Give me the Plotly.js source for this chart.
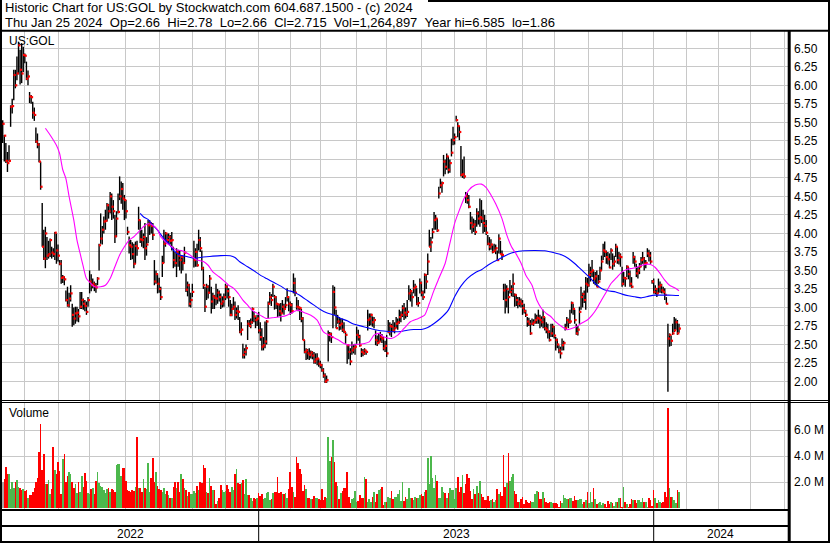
<!DOCTYPE html>
<html><head><meta charset="utf-8">
<script src="https://cdn.plot.ly/plotly-3.0.1.min.js"></script>
<style>html,body{margin:0;padding:0;background:#fff;overflow:hidden}#chart{width:830px;height:543px}</style>
</head><body><div id="chart"></div>
<script>
// ---------------- DATA ----------------
const symbol = "US:GOL";
const headerLine1 = "Historic Chart for US:GOL by Stockwatch.com 604.687.1500 - (c) 2024";
const headerLine2 = "Thu Jan 25 2024  Op=2.66  Hi=2.78  Lo=2.66  Cl=2.715  Vol=1,264,897  Year hi=6.585  lo=1.86";
const volumeLabel = "Volume";
const firstDay = "2022-05-11";
const axisEndDay = "2024-05-31";
const holidays = ["2022-05-30","2022-06-20","2022-07-04","2022-09-05","2022-11-24","2022-12-26",
  "2023-01-02","2023-01-16","2023-02-20","2023-04-07","2023-05-29","2023-06-19","2023-07-04","2023-09-04","2023-11-23","2023-12-25",
  "2024-01-01","2024-01-15","2024-02-19","2024-03-29","2024-05-27"];

const high = [
5.53,5.33,5.22,5.10,5.19,5.73,5.82,6.21,6.21,6.39,
6.59,6.48,6.57,6.52,6.43,6.32,6.20,5.91,5.87,5.78,
5.70,5.43,5.35,5.22,4.97,4.41,4.05,4.09,3.95,3.90,
3.93,3.82,3.80,4.02,4.00,3.85,3.64,3.64,3.44,3.42,
3.23,3.28,3.20,3.30,3.05,3.00,3.01,3.01,2.98,3.21,
3.21,3.12,3.10,3.08,3.14,3.50,3.45,3.39,3.35,3.33,
3.41,3.86,4.27,4.10,4.23,4.32,4.41,4.40,4.56,4.54,
4.45,4.25,4.30,4.54,4.77,4.70,4.68,4.52,4.45,4.09,
3.96,3.91,3.88,3.86,3.89,3.90,4.36,4.18,4.05,4.00,
4.14,3.95,4.18,4.18,4.15,4.14,3.64,3.50,3.46,3.40,
3.28,3.70,4.05,4.02,4.00,4.00,3.98,4.02,3.82,3.75,
3.80,3.78,3.77,3.71,3.70,3.82,3.46,3.35,3.32,3.20,
3.32,3.90,3.80,3.86,4.05,3.95,3.77,3.55,3.28,3.32,
3.30,3.44,3.28,3.20,3.17,3.32,3.25,3.23,3.19,3.15,
3.19,3.32,3.30,3.26,3.10,3.05,3.14,3.08,3.00,3.03,
2.87,2.80,2.51,2.45,2.50,2.83,2.83,2.85,3.00,2.95,
2.87,2.90,2.94,2.80,2.72,2.60,2.81,2.83,3.08,3.21,
3.18,3.32,3.17,3.15,3.06,3.05,3.06,3.10,3.05,3.14,
3.26,3.15,3.08,3.06,3.46,3.40,3.14,3.10,3.01,2.98,
2.87,2.56,2.45,2.44,2.45,2.42,2.41,2.40,2.38,2.38,
2.31,2.28,2.24,2.18,2.11,2.08,2.69,2.67,2.66,3.30,
3.28,2.97,2.90,2.87,2.85,2.85,2.80,2.67,2.49,2.50,
2.45,2.54,2.50,2.51,2.74,2.70,2.63,2.45,2.44,2.45,
2.42,2.97,2.92,2.92,2.88,2.87,2.69,2.62,2.65,2.67,
2.64,2.60,2.55,2.63,2.83,2.80,2.78,2.83,2.80,2.87,
2.85,2.97,2.95,3.03,3.06,3.00,3.10,3.30,3.25,3.21,
3.37,3.32,3.26,3.14,3.39,3.35,3.23,3.46,3.45,3.73,
4.05,3.95,4.07,4.29,4.25,4.20,4.63,4.74,4.70,5.06,
5.00,5.08,5.04,5.00,5.28,5.44,5.35,5.59,5.50,5.45,
5.18,5.00,5.04,4.56,4.55,4.52,4.29,4.23,4.20,4.18,
4.34,4.30,4.47,4.45,4.32,4.25,4.18,3.98,3.95,3.92,
3.84,3.86,3.85,3.77,3.99,3.90,3.77,3.32,3.32,3.30,
3.23,3.37,3.30,3.46,3.19,3.18,3.14,3.14,3.12,3.10,
3.05,2.97,2.87,2.86,2.83,2.85,2.84,2.92,2.90,2.97,
2.90,2.88,2.97,2.87,2.80,2.78,2.69,2.78,2.78,2.75,
2.60,2.58,2.49,2.47,2.58,2.55,2.78,2.87,2.85,2.97,
3.08,3.05,2.97,2.78,2.75,3.01,3.28,3.20,3.23,3.41,
3.40,3.59,3.55,3.64,3.50,3.48,3.50,3.44,3.55,3.70,
3.86,3.89,3.77,3.75,3.73,3.80,3.73,3.70,3.86,3.82,
3.75,3.73,3.55,3.48,3.41,3.57,3.55,3.50,3.41,3.75,
3.70,3.59,3.55,3.60,3.68,3.75,3.68,3.64,3.80,3.78,
3.75,3.37,3.39,3.30,3.26,3.39,3.35,3.32,3.28,3.26,
3.14,2.78,2.65,2.62,2.78,2.87,2.85,2.83,2.78];

const low = [
5.22,4.97,4.95,4.83,4.97,5.44,5.62,5.80,5.96,6.07,
6.15,6.01,6.03,6.18,6.30,6.07,6.00,5.76,5.75,5.55,
5.52,5.22,5.15,4.96,4.59,3.82,3.64,3.53,3.64,3.66,
3.68,3.66,3.68,3.64,3.59,3.62,3.57,3.32,3.33,3.30,
3.08,3.01,3.00,3.08,2.74,2.76,2.78,2.81,2.80,2.98,
2.98,2.97,2.95,2.90,3.01,3.19,3.22,3.26,3.22,3.20,
3.30,3.50,3.86,3.85,4.00,4.05,4.16,4.20,4.27,4.18,
4.20,3.87,3.95,4.27,4.45,4.40,4.32,4.18,4.20,3.98,
3.73,3.64,3.65,3.53,3.59,3.70,4.05,3.87,3.82,3.80,
3.64,3.70,3.87,3.98,4.00,3.91,3.30,3.32,3.19,3.20,
3.10,3.41,3.60,3.82,3.86,3.85,3.85,3.77,3.53,3.55,
3.41,3.55,3.50,3.46,3.50,3.59,3.21,3.15,3.01,3.00,
3.14,3.54,3.55,3.55,3.77,3.75,3.50,3.25,2.94,3.10,
3.12,3.19,2.92,2.98,2.98,3.03,3.05,3.08,2.98,3.00,
3.01,3.10,3.12,3.01,2.88,2.88,2.97,2.83,2.85,2.83,
2.65,2.62,2.31,2.31,2.35,2.56,2.74,2.72,2.78,2.80,
2.72,2.75,2.65,2.55,2.42,2.42,2.45,2.50,2.85,3.05,
3.02,3.14,2.97,2.98,2.87,2.88,2.81,2.92,2.90,2.99,
3.08,2.95,2.90,2.92,3.19,3.15,2.97,2.95,2.83,2.80,
2.56,2.38,2.29,2.30,2.29,2.31,2.30,2.24,2.24,2.22,
2.20,2.18,2.13,2.05,1.98,1.98,2.27,2.54,2.52,2.72,
2.90,2.72,2.78,2.69,2.70,2.67,2.65,2.51,2.24,2.30,
2.22,2.36,2.38,2.36,2.51,2.55,2.47,2.33,2.34,2.36,
2.36,2.69,2.75,2.76,2.74,2.72,2.49,2.48,2.51,2.54,
2.52,2.42,2.40,2.33,2.65,2.62,2.60,2.67,2.65,2.72,
2.70,2.78,2.80,2.87,2.83,2.85,2.87,3.10,3.08,3.01,
3.19,3.15,3.03,3.01,3.19,3.15,3.10,3.19,3.25,3.44,
3.82,3.75,3.93,4.05,4.05,4.02,4.47,4.61,4.55,4.77,
4.80,4.86,4.81,4.82,5.04,5.19,5.20,5.51,5.30,5.26,
4.77,4.75,4.74,4.41,4.40,4.34,4.05,4.00,4.02,3.98,
4.09,4.12,4.09,4.14,4.00,4.02,3.98,3.84,3.77,3.78,
3.73,3.75,3.72,3.64,3.73,3.72,3.64,3.10,2.92,3.00,
2.92,3.19,3.15,3.14,3.01,3.02,2.99,3.01,3.00,2.90,
2.92,2.87,2.74,2.75,2.63,2.76,2.75,2.78,2.78,2.78,
2.72,2.74,2.72,2.69,2.65,2.58,2.54,2.60,2.60,2.58,
2.42,2.45,2.38,2.31,2.42,2.42,2.69,2.74,2.72,2.78,
2.92,2.90,2.78,2.63,2.62,2.78,2.97,3.00,3.06,2.97,
3.20,3.28,3.35,3.41,3.32,3.30,3.28,3.32,3.37,3.50,
3.64,3.68,3.59,3.58,3.53,3.64,3.51,3.55,3.68,3.59,
3.58,3.55,3.28,3.30,3.28,3.41,3.38,3.28,3.26,3.59,
3.55,3.41,3.39,3.45,3.55,3.59,3.50,3.53,3.68,3.62,
3.59,3.32,3.19,3.18,3.14,3.19,3.20,3.19,3.19,3.10,
3.05,1.86,2.47,2.48,2.63,2.67,2.70,2.63,2.66];

const close = [
5.48,5.32,4.98,4.95,4.98,5.71,5.72,6.14,6.00,6.16,
6.54,6.21,6.16,6.41,6.40,6.09,6.12,5.85,5.84,5.63,
5.60,5.24,5.20,4.97,4.63,3.82,3.66,4.00,3.70,3.72,
3.91,3.74,3.72,4.01,3.77,3.70,3.59,3.40,3.41,3.38,
3.10,3.03,3.12,3.19,2.90,2.85,2.92,2.93,2.88,3.01,
3.10,3.05,3.02,2.94,3.10,3.35,3.30,3.32,3.29,3.27,
3.39,3.84,3.93,4.05,4.16,4.17,4.38,4.30,4.50,4.36,
4.30,3.96,4.20,4.29,4.50,4.60,4.47,4.45,4.30,4.02,
3.84,3.82,3.72,3.59,3.83,3.80,4.18,3.92,3.91,3.95,
3.80,3.85,4.11,4.14,4.10,3.98,3.35,3.45,3.32,3.25,
3.14,3.60,3.86,4.00,3.91,3.95,3.90,3.91,3.64,3.60,
3.75,3.70,3.64,3.68,3.60,3.74,3.24,3.30,3.05,3.10,
3.21,3.64,3.75,3.57,3.91,3.80,3.53,3.30,3.01,3.28,
3.20,3.39,3.08,3.15,3.13,3.12,3.20,3.14,3.05,3.08,
3.14,3.28,3.22,3.14,2.90,2.98,3.01,2.90,2.95,2.94,
2.67,2.70,2.36,2.40,2.45,2.78,2.75,2.80,2.98,2.88,
2.83,2.85,2.69,2.60,2.47,2.49,2.54,2.81,3.05,3.14,
3.10,3.28,3.14,3.05,3.04,2.95,2.92,3.01,2.98,3.03,
3.14,3.05,3.03,2.95,3.33,3.20,3.01,3.00,2.99,2.85,
2.56,2.40,2.42,2.38,2.36,2.39,2.35,2.27,2.30,2.31,
2.24,2.22,2.15,2.08,2.00,2.02,2.63,2.64,2.60,3.21,
3.00,2.72,2.81,2.76,2.78,2.70,2.67,2.63,2.49,2.40,
2.27,2.42,2.45,2.47,2.63,2.60,2.49,2.40,2.38,2.42,
2.40,2.83,2.85,2.90,2.80,2.83,2.56,2.52,2.54,2.60,
2.58,2.45,2.48,2.38,2.67,2.75,2.74,2.69,2.72,2.78,
2.80,2.87,2.90,2.99,2.93,2.90,2.94,3.19,3.22,3.14,
3.26,3.28,3.05,3.06,3.33,3.20,3.14,3.44,3.35,3.62,
3.82,3.88,4.02,4.18,4.20,4.04,4.54,4.65,4.68,4.97,
4.90,5.04,4.86,4.95,5.09,5.26,5.30,5.53,5.45,5.37,
4.79,4.80,4.77,4.50,4.45,4.36,4.14,4.09,4.12,4.02,
4.27,4.20,4.22,4.20,4.14,4.10,4.01,3.86,3.82,3.85,
3.75,3.77,3.80,3.64,3.93,3.72,3.71,3.23,3.10,3.25,
3.14,3.21,3.25,3.32,3.17,3.10,3.05,3.08,3.05,2.99,
2.95,2.90,2.81,2.78,2.65,2.78,2.80,2.83,2.86,2.85,
2.83,2.80,2.87,2.72,2.70,2.67,2.56,2.65,2.74,2.62,
2.56,2.50,2.42,2.38,2.49,2.52,2.72,2.83,2.80,2.81,
3.06,2.98,2.83,2.65,2.70,2.94,3.14,3.18,3.10,3.32,
3.30,3.44,3.48,3.50,3.39,3.42,3.28,3.35,3.50,3.62,
3.77,3.75,3.68,3.65,3.54,3.77,3.59,3.62,3.82,3.64,
3.70,3.68,3.32,3.40,3.39,3.55,3.45,3.32,3.28,3.68,
3.62,3.46,3.50,3.55,3.64,3.66,3.59,3.60,3.73,3.70,
3.62,3.35,3.21,3.25,3.19,3.28,3.30,3.23,3.21,3.17,
3.05,2.58,2.63,2.55,2.65,2.69,2.80,2.65,2.715];

// daily volume, millions of shares
const volume = [
2.03,2.23,3.18,2.6,2.59,1.44,1.97,1.57,2.03,2.15,
1.64,1.51,1.39,1.45,1.33,1.39,0.8,1.0,1.0,1.2,
1.51,2.0,2.33,4.33,6.44,2.92,4.13,1.87,1.82,2.13,
1.05,1.5,4.72,2.9,2.59,3.51,2.85,1.05,3.74,4.18,
2.03,2.49,2.74,2.6,2.03,1.51,1.82,1.13,2.03,1.21,
2.49,1.64,2.67,2.08,1.13,1.05,1.46,1.51,1.05,2.08,
2.8,1.9,1.72,1.64,1.4,1.13,1.46,1.51,1.26,1.5,
1.36,1.2,3.31,3.41,3.36,2.5,3.05,3.05,2.08,1.36,
1.31,1.26,1.39,1.33,1.6,5.49,1.51,1.51,1.26,2.23,
1.57,1.5,3.44,1.26,2.28,3.82,2.0,2.8,1.72,1.46,
1.39,1.21,1.51,1.05,1.3,1.0,0.74,0.8,1.64,1.97,
1.51,2.03,1.26,2.59,2.23,1.57,1.39,0.95,1.26,1.1,
1.1,1.3,1.18,1.7,1.4,2.0,1.9,3.31,3.05,1.26,
1.18,2.33,1.72,1.39,1.39,0.28,0.54,0.8,1.77,1.39,
1.26,1.31,1.77,1.5,1.2,1.6,1.4,2.59,3.0,1.9,
1.82,1.9,2.15,1.05,2.2,1.0,1.0,0.8,0.54,0.74,
0.69,0.8,1.13,0.95,1.05,0.69,0.74,1.13,1.2,0.62,
0.67,1.13,1.2,1.2,2.41,1.13,1.26,1.05,1.05,1.13,
0.74,1.44,2.8,1.64,1.2,0.87,3.95,3.44,2.97,2.59,
1.31,1.77,1.46,0.8,0.8,0.67,0.69,0.92,0.8,0.8,
0.7,0.62,1.44,0.62,0.87,0.75,5.49,3.62,3.95,5.23,
3.56,2.03,1.72,0.67,1.13,1.31,1.56,1.51,2.8,0.87,
0.41,0.69,0.8,1.31,0.49,0.56,1.0,0.74,0.8,2.41,
2.23,0.49,0.69,0.49,0.82,1.2,0.44,1.05,1.41,1.46,
1.64,0.23,0.5,0.49,0.87,0.74,1.31,0.69,0.87,0.87,
1.05,1.39,0.54,2.03,0.54,0.82,0.7,1.56,0.8,0.8,
0.59,0.87,0.74,0.8,1.0,1.05,0.95,1.2,1.4,3.87,
1.82,4.03,2.33,1.56,2.54,2.08,0.8,0.74,1.64,1.26,
1.13,0.8,1.18,1.56,1.39,1.39,0.69,1.56,2.41,1.26,
1.64,2.54,1.13,1.87,2.64,2.33,1.31,0.67,1.46,1.05,
1.72,1.13,2.1,1.1,0.87,0.62,0.62,0.95,0.54,0.62,
0.7,0.49,0.62,1.46,1.05,1.2,0.9,4.08,1.64,1.95,
4.26,2.1,2.41,2.59,1.31,1.1,0.49,0.49,0.67,0.87,
0.33,0.64,0.5,0.36,0.56,0.44,0.49,1.1,1.31,1.26,
0.67,0.69,1.26,0.8,0.44,0.38,0.49,0.44,0.36,0.41,
0.41,0.3,0.1,0.56,0.36,1.0,0.74,0.69,0.69,0.74,
0.8,0.54,0.95,0.59,0.59,0.72,0.72,0.28,0.49,0.6,
1.26,0.36,1.26,0.49,1.56,0.67,0.31,0.36,0.49,0.23,
0.38,0.28,0.1,0.56,0.33,0.49,0.4,0.15,0.49,0.49,
0.8,0.74,0.1,1.64,0.49,0.31,0.1,0.28,0.72,0.64,
0.64,0.41,0.64,0.59,0.5,0.8,0.49,0.44,0.1,0.74,
0.59,0.18,1.41,0.74,0.36,0.62,0.49,0.41,0.44,1.2,
0.85,7.67,1.56,0.87,0.87,0.64,0.36,1.41,1.26];

// moving averages (trading-day number, price)
const maFastDay = [27,30,34,36,38,40,42,45,47,49,51,53,56,58,62,65,68,71,74,77,80,83,86,89,92,95,98,100,102,104,107,110,113,117,120,123,127,130,133,137,140,143,146,149,152,155,158,161,165,167,172,176,180,184,187,191,195,199,203,208,212,216,220,225,229,232,235,238,241,246,250,254,258,263,267,270,273,276,280,283,286,289,292,295,299,303,306,309,312,316,319,322,325,328,331,335,338,341,344,347,350,354,357,360,363,366,370,373,376,379,382,385,389,392,395,398,401,404,408,410,413,416,419,422,426,428];
const maFastVal = [5.42,5.33,5.19,5.08,4.86,4.74,4.50,4.18,3.91,3.73,3.55,3.39,3.32,3.28,3.28,3.30,3.39,3.55,3.71,3.82,3.91,3.955,4.02,4.09,4.13,4.11,4.05,3.955,3.91,3.865,3.82,3.775,3.77,3.73,3.685,3.64,3.62,3.57,3.48,3.414,3.36,3.30,3.26,3.19,3.10,3.03,2.96,2.92,2.87,2.85,2.865,2.874,2.896,2.94,2.964,2.93,2.896,2.83,2.67,2.61,2.567,2.513,2.49,2.504,2.513,2.535,2.626,2.65,2.603,2.58,2.626,2.716,2.806,2.851,2.896,3.054,3.234,3.39,3.594,3.865,4.135,4.315,4.473,4.585,4.653,4.666,4.62,4.52,4.40,4.20,3.98,3.82,3.72,3.60,3.44,3.30,3.10,2.986,2.92,2.874,2.806,2.74,2.70,2.716,2.74,2.784,2.83,2.896,2.986,3.10,3.21,3.324,3.414,3.48,3.513,3.527,3.54,3.567,3.585,3.58,3.54,3.46,3.369,3.30,3.256,3.225];
const maSlowDay = [87,89,92,95,98,102,105,108,112,117,121,125,129,133,138,144,147,150,155,159,163,167,172,176,180,184,188,193,197,201,205,210,214,218,222,227,231,235,239,244,248,252,256,260,265,269,273,277,282,286,290,294,299,303,307,311,316,320,324,330,337,343,349,354,358,362,366,371,375,379,383,388,392,396,400,404,409,413,417,421,426,428];
const maSlowVal = [4.27,4.225,4.19,4.11,4.045,3.93,3.865,3.775,3.707,3.685,3.662,3.675,3.685,3.693,3.70,3.698,3.675,3.617,3.55,3.495,3.437,3.39,3.333,3.288,3.234,3.21,3.166,3.09,3.031,2.973,2.928,2.896,2.851,2.82,2.775,2.748,2.725,2.703,2.685,2.675,2.671,2.675,2.693,2.703,2.703,2.73,2.784,2.851,2.964,3.144,3.288,3.39,3.47,3.51,3.57,3.62,3.675,3.72,3.747,3.765,3.77,3.765,3.738,3.707,3.662,3.594,3.513,3.414,3.324,3.256,3.225,3.21,3.18,3.157,3.144,3.13,3.153,3.166,3.166,3.166,3.162,3.162];

const priceTicks = [2.00,2.25,2.50,2.75,3.00,3.25,3.50,3.75,4.00,4.25,4.50,4.75,5.00,5.25,5.50,5.75,6.00,6.25,6.50];
const volumeTicks = [2, 4, 6];
const volumeTickText = ["2.0 M", "4.0 M", "6.0 M"];
const yearLabels = ["2022", "2023", "2024"];

// ---------------- BUILD ----------------
function tradingDays(start, end, hol) {
  const set = new Set(hol), out = [];
  let d = new Date(start + "T00:00:00Z");
  const e = new Date(end + "T00:00:00Z");
  while (d <= e) {
    const wd = d.getUTCDay(), s = d.toISOString().slice(0, 10);
    if (wd !== 0 && wd !== 6 && !set.has(s)) out.push(s);
    d = new Date(d.getTime() + 86400000);
  }
  return out;
}
const days = tradingDays(firstDay, axisEndDay, holidays);
const monthTicks = [], yearStarts = [];
for (let k = 1; k < days.length; k++) {
  if (days[k].slice(0, 7) !== days[k - 1].slice(0, 7)) monthTicks.push(k);
  if (days[k].slice(0, 4) !== days[k - 1].slice(0, 4)) yearStarts.push(k);
}
const xRange = [-0.45, 497];

const n = close.length;
const idx = close.map((_, i) => i);
const hlX = [], hlY = [];
for (let i = 0; i < n; i++) { hlX.push(i, i, null); hlY.push(low[i], high[i], null); }
const volColor = volume.map((_, i) => {
  if (i === 0 || i >= n) return '#a6a6a6';
  return close[i] > close[i - 1] ? '#4cb84c' : (close[i] < close[i - 1] ? '#ff0000' : '#a6a6a6');
});

const W = 830, H = 543;
const px = v => v / W, py = v => 1 - v / H;
const GRID = '#c8c8c8';
const FONT = '"Liberation Sans", Arial, Helvetica, sans-serif';

const traces = [
  { type: 'scatter', mode: 'lines', x: hlX, y: hlY, line: { color: '#000', width: 1.4 }, hoverinfo: 'skip', xaxis: 'x', yaxis: 'y' },
  { type: 'scatter', mode: 'markers', x: idx.map(i => i + 0.55), y: close, marker: { color: '#ff0000', size: 2.2, symbol: 'square', line: { width: 0 } }, hoverinfo: 'skip', xaxis: 'x', yaxis: 'y' },
  { type: 'scatter', mode: 'lines', x: maSlowDay, y: maSlowVal, line: { color: '#0000ff', width: 1.1, shape: 'spline', smoothing: 0.6 }, xaxis: 'x', yaxis: 'y' },
  { type: 'scatter', mode: 'lines', x: maFastDay, y: maFastVal, line: { color: '#ff00ff', width: 1.1, shape: 'spline', smoothing: 0.6 }, xaxis: 'x', yaxis: 'y' },
  { type: 'bar', x: volume.map((_, i) => i), y: volume, width: 1, marker: { color: volColor, line: { width: 0 } }, xaxis: 'x', yaxis: 'y2' }
];

const blk = { color: '#000' };
const shapes = [
  { type: 'line', xref: 'paper', yref: 'paper', x0: px(428), x1: 1, y0: py(1), y1: py(1), line: { ...blk, width: 2 } },
  { type: 'line', xref: 'paper', yref: 'paper', x0: 0, x1: 1, y0: py(30.8), y1: py(30.8), line: { ...blk, width: 2 } },
  { type: 'line', xref: 'paper', yref: 'paper', x0: px(1), x1: px(1), y0: py(0), y1: py(543), line: { ...blk, width: 2 } },
  { type: 'line', xref: 'paper', yref: 'paper', x0: px(829), x1: px(829), y0: py(0), y1: py(543), line: { ...blk, width: 2 } },
  { type: 'line', xref: 'paper', yref: 'paper', x0: px(789.2), x1: px(789.2), y0: py(30), y1: py(543), line: { ...blk, width: 3 } },
  { type: 'line', xref: 'paper', yref: 'paper', x0: 0, x1: 1, y0: py(400.5), y1: py(400.5), line: { ...blk, width: 1 } },
  { type: 'line', xref: 'paper', yref: 'paper', x0: 0, x1: 1, y0: py(402.5), y1: py(402.5), line: { ...blk, width: 1 } },
  { type: 'line', xref: 'paper', yref: 'paper', x0: 0, x1: px(789), y0: py(510), y1: py(510), line: { ...blk, width: 2 } },
  { type: 'line', xref: 'paper', yref: 'paper', x0: 0, x1: px(789), y0: py(526), y1: py(526), line: { ...blk, width: 2 } },
  { type: 'line', xref: 'paper', yref: 'paper', x0: 0, x1: 1, y0: py(542), y1: py(542), line: { ...blk, width: 2 } }
];
yearStarts.forEach(k => {
  if (k <= xRange[1]) shapes.push({ type: 'line', xref: 'x', yref: 'paper', x0: k, x1: k, y0: py(510), y1: py(542), line: { ...blk, width: 1 } });
});

const sp = s => s.replace(/  /g, ' \u00a0');
const ann = (text, x, y, extra, size) => Object.assign({ text: sp(text), xref: 'paper', yref: 'paper', x: x, y: y, xanchor: 'left', yanchor: 'middle', showarrow: false, borderpad: 0, font: { family: FONT, size: size || 12, color: '#000' } }, extra || {});
const annotations = [
  ann(headerLine1, px(3.5), py(7.6), null, 13),
  ann(headerLine2, px(3.5), py(22), null, 13),
  ann(symbol, px(8), py(41.5)),
  ann(volumeLabel, px(8), py(413))
];
const bounds = [xRange[0]].concat(yearStarts.filter(k => k < xRange[1])).concat([xRange[1]]);
yearLabels.forEach((t, j) => {
  if (j + 1 < bounds.length) annotations.push(ann(t, (bounds[j] + bounds[j + 1]) / 2, py(534), { xref: 'x', xanchor: 'center' }));
});

const axisBase = { showgrid: true, gridcolor: GRID, gridwidth: 1, zeroline: false, showline: false, ticks: '', fixedrange: true };
const layout = {
  width: W, height: H, margin: { l: 0, r: 0, t: 0, b: 0, pad: 0 },
  paper_bgcolor: '#fff', plot_bgcolor: '#fff', showlegend: false, hovermode: false,
  font: { family: FONT, size: 12, color: '#000' },
  xaxis: Object.assign({}, axisBase, { domain: [px(2), px(788)], range: xRange, tickmode: 'array', tickvals: monthTicks, showticklabels: false, anchor: 'y' }),
  yaxis: Object.assign({}, axisBase, { domain: [py(400), py(31)], range: [1.75, 6.734], side: 'right', tickmode: 'array', tickvals: priceTicks, ticktext: priceTicks.map(v => v.toFixed(2)), ticklabelstandoff: 5, tickfont: { family: FONT, size: 12, color: '#000' }, anchor: 'x' }),
  yaxis2: Object.assign({}, axisBase, { domain: [py(509), py(403)], range: [-0.077, 8.08], side: 'right', tickmode: 'array', tickvals: volumeTicks, ticktext: volumeTickText, ticklabelstandoff: 5, tickfont: { family: FONT, size: 12, color: '#000' }, anchor: 'x' }),
  shapes: shapes, annotations: annotations, bargap: 0
};
Plotly.newPlot('chart', traces, layout, { staticPlot: true, displayModeBar: false });
</script></body></html>
